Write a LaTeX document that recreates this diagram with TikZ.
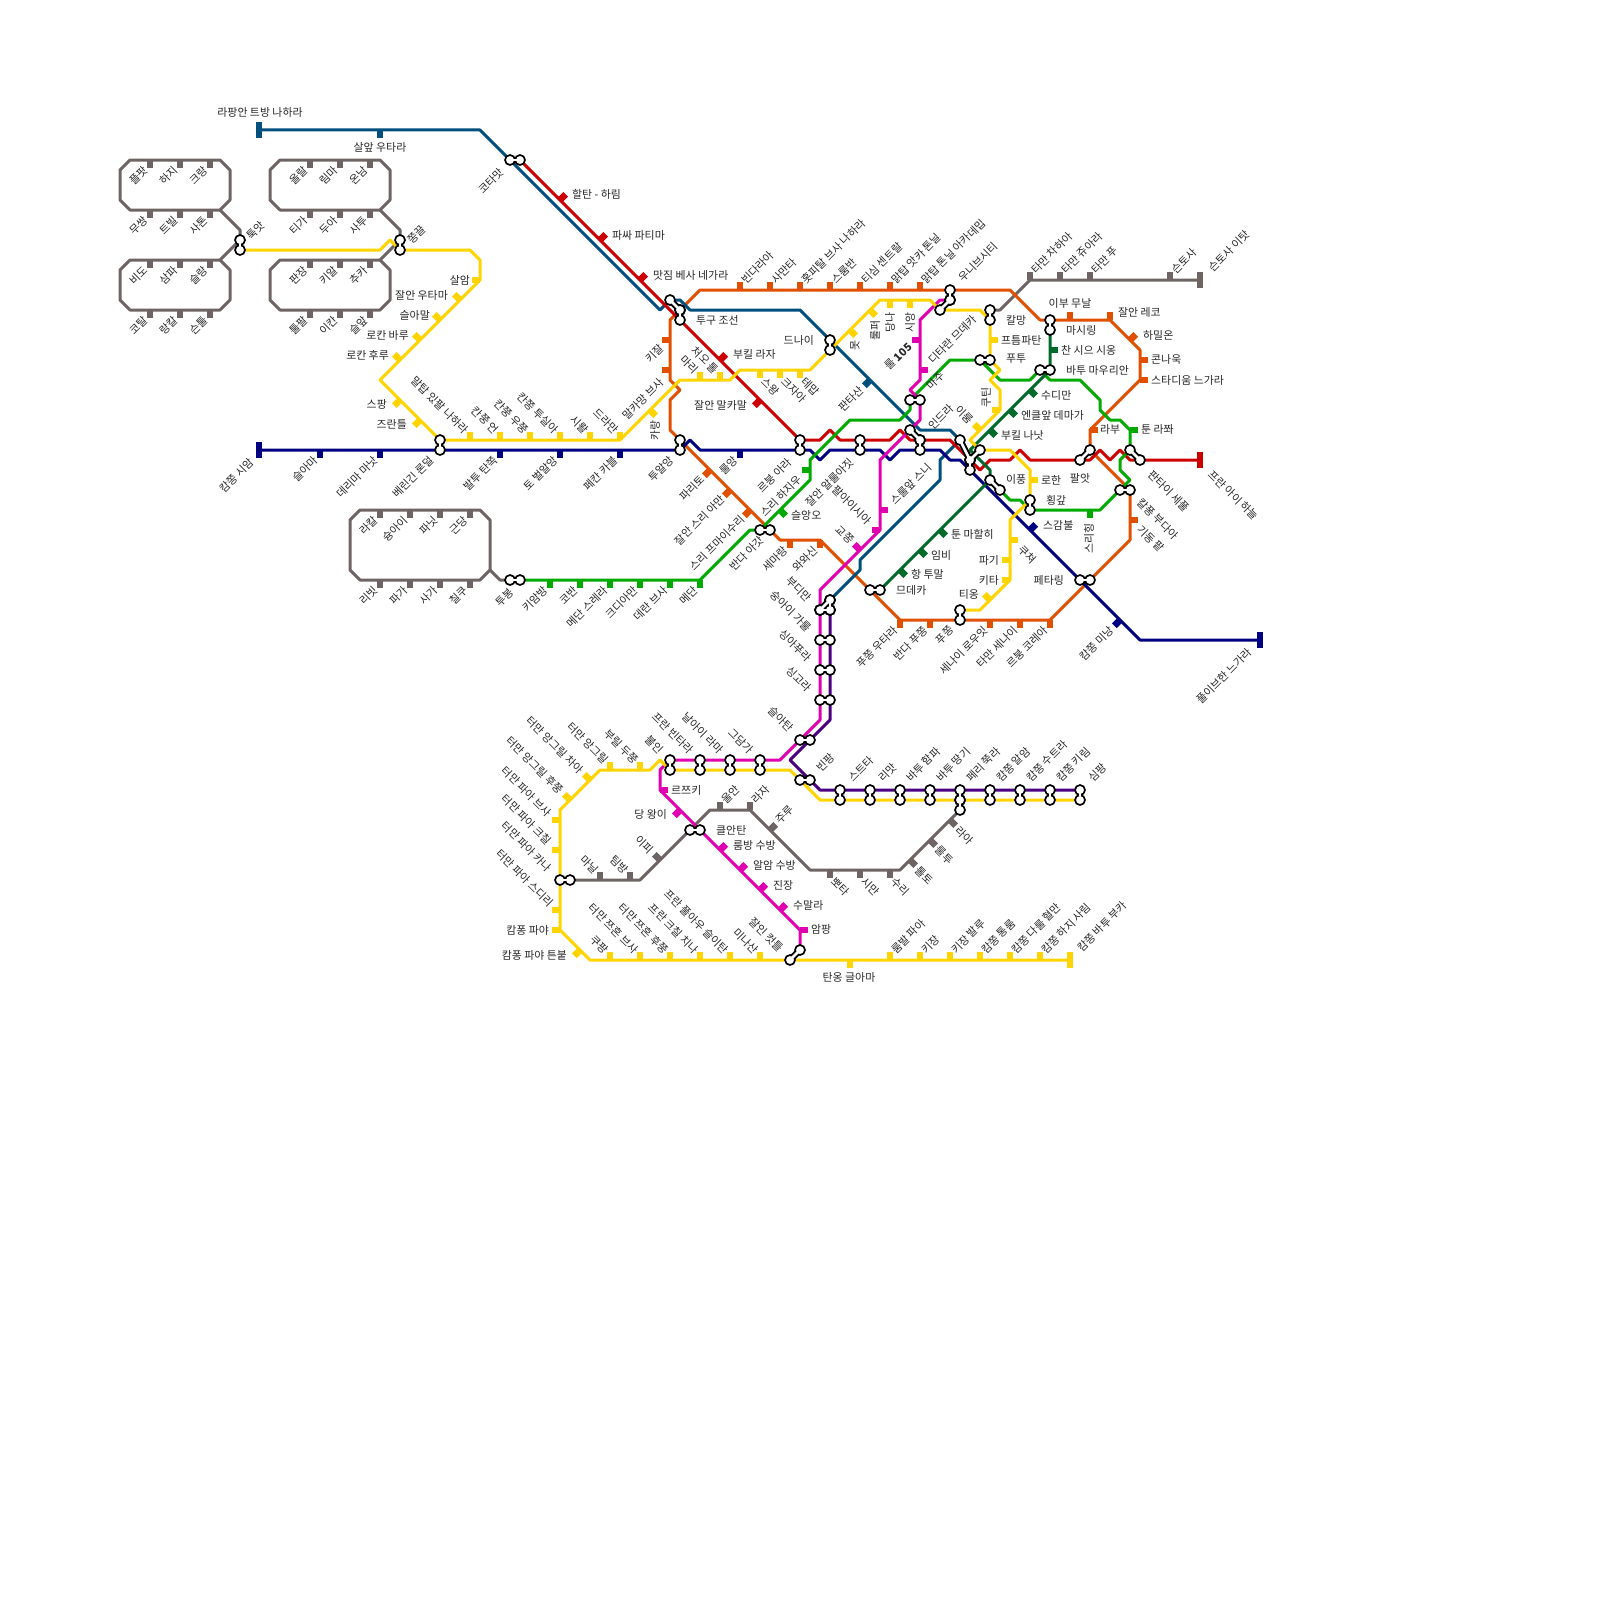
\documentclass[tikz,border=0pt]{standalone}
\usepackage{fontspec}
\setmainfont{Noto Sans CJK KR}
\usepackage{xcolor}
\definecolor{cteal}{RGB}{0,79,124}
\definecolor{cred}{RGB}{204,0,0}
\definecolor{cnavy}{RGB}{0,0,128}
\definecolor{cyel}{RGB}{255,212,0}
\definecolor{corg}{RGB}{224,80,0}
\definecolor{cgrn}{RGB}{0,170,0}
\definecolor{cdgrn}{RGB}{0,106,42}
\definecolor{cgry}{RGB}{110,100,100}
\definecolor{cmag}{RGB}{224,0,176}
\definecolor{cpur}{RGB}{75,0,130}
\def\xpairs{kta/ktb,tua/tub,jja/jjb,bra/brb,tba/tbb,tga/tgb,tgb/tgc,tla/tlb,bna/bnb,rba/rbb,dna/dnb,jla/jlb,ska/skb,skb/skc,mja/mjb,uva/uvb,uvb/uvc,kla/klb,pta/ptb,bma/bmb,msa/msb,cna/cnc,cnb/cnc,cnc/cnd,ipa/ipb,hga/hgb,pya/pyb,psa/psb,kba/kbb,pea/peb,mda/mdb,pja/pjb,bda/bdb,bdb/bdc,bda/bdc,sga/sgb,ssa/ssb,sca/scb,sla/slb,bta/btb,pAa/pAb,pBa/pBb,pCa/pCb,pDa/pDb,pEa/pEb,pEb/pEc,pFa/pFb,pGa/pGb,pHa/pHb,pIa/pIb,vAa/vAb,vBa/vBb,vCa/vCb,vDa/vDb,kna/knb,tpa/tpb,jca/jcb}
\tikzset{
  metro/.style={line width=3pt,line join=round,draw=#1},
  tick/.style={inner sep=0pt,outer sep=0pt,minimum width=6.7pt,minimum height=8pt,anchor=north},
  tkd/.style={tick,fill=#1},
  tku/.style={tick,fill=#1,rotate=180},
  tkl/.style={tick,fill=#1,rotate=-90},
  tkr/.style={tick,fill=#1,rotate=90},
  tkne/.style={tick,fill=#1,rotate=135},
  tknw/.style={tick,fill=#1,rotate=-135},
  tkse/.style={tick,fill=#1,rotate=45},
  tksw/.style={tick,fill=#1,rotate=-45},
  endbar/.style={inner sep=0pt,outer sep=0pt,minimum width=6.7pt,minimum height=16pt,fill=#1},
  xout/.style={line width=6.5pt,black},
  xin/.style={line width=2.6pt,white},
  xring/.style={circle,draw=black,fill=white,line width=1.7pt,inner sep=0pt,outer sep=0pt,minimum size=10pt},
  lbl/.style={font=\fontsize{10.9}{13}\selectfont,text=black!85,inner sep=0pt},
  hc/.style={lbl},
  hl/.style={lbl,anchor=east},
  hr/.style={lbl,anchor=west},
  rne/.style={lbl,rotate=45,anchor=west},
  rsw/.style={lbl,rotate=45,anchor=east},
  rnw/.style={lbl,rotate=-45,anchor=east},
  rse/.style={lbl,rotate=-45,anchor=west},
  rup/.style={lbl,rotate=90,anchor=east},
  lsw/.style={xshift=-4pt,yshift=-8pt,rsw},
  lne/.style={xshift=3pt,yshift=8pt,rne},
  lnw/.style={xshift=-3pt,yshift=8pt,rnw},
  lse/.style={xshift=3pt,yshift=-9pt,rse},
  dsw/.style={xshift=-7pt,yshift=-7pt,rsw},
  dnw/.style={xshift=-8pt,yshift=8pt,rnw},
  dse/.style={xshift=7pt,yshift=-8pt,rse},
  dne/.style={xshift=8pt,yshift=8pt,rne}
}
\begin{document}
\begin{tikzpicture}[x=1pt,y=-1pt]
  \useasboundingbox (0,0) rectangle (1600,1600);

  \coordinate (kta) at (510,160); \coordinate (ktb) at (520,160);
  \coordinate (tua) at (240,240); \coordinate (tub) at (240,250);
  \coordinate (jja) at (400,240); \coordinate (jjb) at (400,250);
  \coordinate (bra) at (440,440); \coordinate (brb) at (440,450);
  \coordinate (tba) at (510,580); \coordinate (tbb) at (520,580);
  \coordinate (tga) at (670,300); \coordinate (tgb) at (680,310); \coordinate (tgc) at (680,320);
  \coordinate (tla) at (680,440); \coordinate (tlb) at (680,450);
  \coordinate (bna) at (760,530); \coordinate (bnb) at (770,530);
  \coordinate (rba) at (800,440); \coordinate (rbb) at (800,450);
  \coordinate (dna) at (830,340); \coordinate (dnb) at (830,350);
  \coordinate (jla) at (860,440); \coordinate (jlb) at (860,450);
  \coordinate (ska) at (910,430); \coordinate (skb) at (920,440); \coordinate (skc) at (920,450);
  \coordinate (mja) at (910,400); \coordinate (mjb) at (920,400);
  \coordinate (uva) at (940,310); \coordinate (uvb) at (950,300); \coordinate (uvc) at (950,290);
  \coordinate (kla) at (990,310); \coordinate (klb) at (990,320);
  \coordinate (pta) at (980,360); \coordinate (ptb) at (990,360);
  \coordinate (bma) at (1040,370); \coordinate (bmb) at (1050,370);
  \coordinate (msa) at (1050,320); \coordinate (msb) at (1050,330);
  \coordinate (cna) at (960,440); \coordinate (cnb) at (980,450); \coordinate (cnc) at (970,460); \coordinate (cnd) at (970,470);
  \coordinate (ipa) at (990,480); \coordinate (ipb) at (1000,490);
  \coordinate (hga) at (1030,500); \coordinate (hgb) at (1030,510);
  \coordinate (pya) at (1080,460); \coordinate (pyb) at (1090,450);
  \coordinate (psa) at (1130,450); \coordinate (psb) at (1140,460);
  \coordinate (kba) at (1120,490); \coordinate (kbb) at (1130,490);
  \coordinate (pea) at (1080,580); \coordinate (peb) at (1090,580);
  \coordinate (mda) at (870,590); \coordinate (mdb) at (880,590);
  \coordinate (pja) at (960,610); \coordinate (pjb) at (960,620);
  \coordinate (bda) at (830,600); \coordinate (bdb) at (820,610); \coordinate (bdc) at (830,610);
  \coordinate (sga) at (820,640); \coordinate (sgb) at (830,640);
  \coordinate (ssa) at (820,670); \coordinate (ssb) at (830,670);
  \coordinate (sca) at (820,700); \coordinate (scb) at (830,700);
  \coordinate (sla) at (800,740); \coordinate (slb) at (810,740);
  \coordinate (bta) at (800,780); \coordinate (btb) at (810,780);
  \coordinate (pAa) at (840,790); \coordinate (pAb) at (840,800);
  \coordinate (pBa) at (870,790); \coordinate (pBb) at (870,800);
  \coordinate (pCa) at (900,790); \coordinate (pCb) at (900,800);
  \coordinate (pDa) at (930,790); \coordinate (pDb) at (930,800);
  \coordinate (pEa) at (960,790); \coordinate (pEb) at (960,800); \coordinate (pEc) at (960,810);
  \coordinate (pFa) at (990,790); \coordinate (pFb) at (990,800);
  \coordinate (pGa) at (1020,790); \coordinate (pGb) at (1020,800);
  \coordinate (pHa) at (1050,790); \coordinate (pHb) at (1050,800);
  \coordinate (pIa) at (1080,790); \coordinate (pIb) at (1080,800);
  \coordinate (vAa) at (670,760); \coordinate (vAb) at (670,770);
  \coordinate (vBa) at (700,760); \coordinate (vBb) at (700,770);
  \coordinate (vCa) at (730,760); \coordinate (vCb) at (730,770);
  \coordinate (vDa) at (760,760); \coordinate (vDb) at (760,770);
  \coordinate (kna) at (690,830); \coordinate (knb) at (700,830);
  \coordinate (tpa) at (560,880); \coordinate (tpb) at (570,880);
  \coordinate (jca) at (790,960); \coordinate (jcb) at (800,950);

  \node[endbar=cteal] (tealbar) at (259,130) {};
  \node[endbar=cnavy] (navybarw) at (259,450) {};
  \node[endbar=cnavy] (navybare) at (1260,640) {};
  \node[endbar=cred] (redbar) at (1200,460) {};
  \node[endbar=cgry] (grybar) at (1200,280) {};
  \node[endbar=cyel] (yelbar) at (1070,960) {};

  \draw[metro=cgry] (130,160) -- (220,160) -- (230,170) -- (230,200) -- (220,210) -- (130,210) -- (120,200) -- (120,170) -- cycle;
  \draw[metro=cgry] (130,260) -- (220,260) -- (230,270) -- (230,300) -- (220,310) -- (130,310) -- (120,300) -- (120,270) -- cycle;
  \draw[metro=cgry] (280,160) -- (380,160) -- (390,170) -- (390,200) -- (380,210) -- (280,210) -- (270,200) -- (270,170) -- cycle;
  \draw[metro=cgry] (280,260) -- (380,260) -- (390,270) -- (390,300) -- (380,310) -- (280,310) -- (270,300) -- (270,270) -- cycle;
  \draw[metro=cgry] (360,510) -- (480,510) -- (490,520) -- (490,570) -- (480,580) -- (360,580) -- (350,570) -- (350,520) -- cycle;
  \draw[metro=cgry] (220,210) -- (240,230) -- (tua);
  \draw[metro=cgry] (220,260) -- (tua);
  \draw[metro=cgry] (380,210) -- (400,230) -- (jja);
  \draw[metro=cgry] (380,260) -- (jja);
  \draw[metro=cgry] (490,570) -- (500,580) -- (tba);
  \draw[metro=cgry] (kla) -- (1000,310) -- (1030,280) -- (grybar.center);
  \draw[metro=cgry] (tpb) -- (640,880) -- (710,810) -- (750,810) -- (810,870) -- (900,870) -- (pEc);

  \draw[metro=corg] (700,290) -- (1010,290) -- (1040,320) -- (1110,320) -- (1140,350) -- (1140,380) -- (1090,430) -- (pyb) -- (kbb) -- (1130,540) -- (1050,620) -- (900,620) -- (820,540) -- (780,540) -- (tla) -- (670,430) -- (670,400) -- (680,390) -- (670,380) -- (670,320) -- cycle;
  \draw[metro=cteal] (tealbar.center) -- (480,130) -- (660,310) -- (670,300) -- (680,300) -- (690,310) -- (800,310) -- (920,430) -- (950,430) -- (cna) -- (940,460) -- (940,480) -- (860,560) -- (860,570) -- (bda);
  \draw[metro=cred] (ktb) -- (rba) -- (820,440) -- (830,430) -- (840,440) -- (890,440) -- (900,430) -- (910,440) -- (950,440) -- (980,470) -- (990,460) -- (1010,460) -- (1020,450) -- (1030,460) -- (1090,460) -- (1100,450) -- (1110,460) -- (1120,450) -- (1130,460) -- (redbar.center);
  \draw[metro=cnavy] (navybarw.center) -- (tlb) -- (690,440) -- (700,450) -- (810,450) -- (820,460) -- (830,450) -- (880,450) -- (890,460) -- (900,450) -- (940,450) -- (950,460) -- (960,460) -- (cnd) -- (1140,640) -- (navybare.center);
  \draw[metro=cgrn] (tbb) -- (700,580) -- (750,530) -- (bna) -- (810,480) -- (810,460) -- (850,420) -- (900,420) -- (910,410) -- (mja) -- (950,360) -- (pta) -- (1000,380) -- (1030,380) -- (bma) -- (1050,380) -- (1080,380) -- (1100,400) -- (1100,410) -- (1110,420) -- (1120,420) -- (1130,430) -- (psa) -- (1120,460) -- (1120,470) -- (1130,480) -- (kba) -- (1100,510) -- (hgb) -- (1020,500) -- (1010,500) -- (ipb);
  \draw[metro=cdgrn] (msb) -- (bmb) -- (970,450) -- (990,470) -- (ipa) -- (880,590);
  \draw[metro=cpur] (bdc) -- (830,720) -- (790,760) -- (820,790) -- (pIa);
  \draw[metro=cmag] (jcb) -- (800,930) -- (660,790) -- (660,770) -- (vAa) -- (780,760) -- (820,720) -- (820,590) -- (880,530) -- (880,460) -- (920,420) -- (mjb) -- (910,390) -- (920,380) -- (920,320) -- (940,300) -- (uvb);
  \draw[metro=cyel] (tub) -- (380,250) -- (390,240) -- (jjb) -- (470,250) -- (480,260) -- (480,280) -- (380,380) -- (bra) -- (620,440) -- (680,380) -- (730,380) -- (740,370) -- (810,370) -- (880,300) -- (930,300) -- (uva) -- (980,310) -- (klb) -- (990,360) -- (1000,370) -- (990,380) -- (1000,390) -- (1000,410) -- (970,440) -- (cnb) -- (1010,450) -- (1030,470) -- (hga) -- (1010,520) -- (1010,580) -- (980,610) -- (pja);
  \draw[metro=cyel] (yelbar.center) -- (590,960) -- (560,930) -- (560,810) -- (600,770) -- (650,770) -- (660,760) -- (vAb) -- (790,770) -- (820,800) -- (pIb);

  \node[tkd=cteal] (t1) at (380,130) {}; \node[hc] (t1t) at (380,147) {살앞 우타라};
  \node[tksw=cteal] (t2) at (870,380) {}; \node[rsw] (t2t) at (862,388) {판타산};
  \node[hc] (t0t) at (260,112) {라팡안 트방 나하라};
  \node[rsw] (t3t) at (502,170) {코타맛};
  \node[hr] (t4t) at (696,320) {투구 조선};
  \node[hl] (t5t) at (814,340) {드나이};
  \node[rne] (t6t) at (930,428) {인드라};

  \node[tkd=cgry] (a1) at (150,160) {}; \node[lsw] (a1t) at (a1.north) {플팟};
  \node[tkd=cgry] (a2) at (180,160) {}; \node[lsw] (a2t) at (a2.north) {하지};
  \node[tkd=cgry] (a3) at (210,160) {}; \node[lsw] (a3t) at (a3.north) {크랑};
  \node[tkd=cgry] (a4) at (150,210) {}; \node[lsw] (a4t) at (a4.north) {무쌍};
  \node[tkd=cgry] (a5) at (180,210) {}; \node[lsw] (a5t) at (a5.north) {트빌};
  \node[tkd=cgry] (a6) at (210,210) {}; \node[lsw] (a6t) at (a6.north) {사톤};
  \node[tkd=cgry] (b1) at (150,260) {}; \node[lsw] (b1t) at (b1.north) {비도};
  \node[tkd=cgry] (b2) at (180,260) {}; \node[lsw] (b2t) at (b2.north) {삼파};
  \node[tkd=cgry] (b3) at (210,260) {}; \node[lsw] (b3t) at (b3.north) {슬랑};
  \node[tkd=cgry] (b4) at (150,310) {}; \node[lsw] (b4t) at (b4.north) {코탈};
  \node[tkd=cgry] (b5) at (180,310) {}; \node[lsw] (b5t) at (b5.north) {랑칼};
  \node[tkd=cgry] (b6) at (210,310) {}; \node[lsw] (b6t) at (b6.north) {슨툴};
  \node[tkd=cgry] (c1) at (310,160) {}; \node[lsw] (c1t) at (c1.north) {올랄};
  \node[tkd=cgry] (c2) at (340,160) {}; \node[lsw] (c2t) at (c2.north) {림마};
  \node[tkd=cgry] (c3) at (370,160) {}; \node[lsw] (c3t) at (c3.north) {온남};
  \node[tkd=cgry] (c4) at (310,210) {}; \node[lsw] (c4t) at (c4.north) {티가};
  \node[tkd=cgry] (c5) at (340,210) {}; \node[lsw] (c5t) at (c5.north) {두아};
  \node[tkd=cgry] (c6) at (370,210) {}; \node[lsw] (c6t) at (c6.north) {사투};
  \node[tkd=cgry] (e1) at (310,260) {}; \node[lsw] (e1t) at (e1.north) {판장};
  \node[tkd=cgry] (e2) at (340,260) {}; \node[lsw] (e2t) at (e2.north) {키알};
  \node[tkd=cgry] (e3) at (370,260) {}; \node[lsw] (e3t) at (e3.north) {추카};
  \node[tkd=cgry] (e4) at (310,310) {}; \node[lsw] (e4t) at (e4.north) {툴팔};
  \node[tkd=cgry] (e5) at (340,310) {}; \node[lsw] (e5t) at (e5.north) {이칸};
  \node[tkd=cgry] (e6) at (370,310) {}; \node[lsw] (e6t) at (e6.north) {슬앞};
  \node[tkd=cgry] (f1) at (380,510) {}; \node[lsw] (f1t) at (f1.north) {라칼};
  \node[tkd=cgry] (f2) at (410,510) {}; \node[lsw] (f2t) at (f2.north) {슝아이};
  \node[tkd=cgry] (f3) at (440,510) {}; \node[lsw] (f3t) at (f3.north) {파닛};
  \node[tkd=cgry] (f4) at (470,510) {}; \node[lsw] (f4t) at (f4.north) {근당};
  \node[tkd=cgry] (f5) at (380,580) {}; \node[lsw] (f5t) at (f5.north) {리빗};
  \node[tkd=cgry] (f6) at (410,580) {}; \node[lsw] (f6t) at (f6.north) {파가};
  \node[tkd=cgry] (f7) at (440,580) {}; \node[lsw] (f7t) at (f7.north) {사가};
  \node[tkd=cgry] (f8) at (470,580) {}; \node[lsw] (f8t) at (f8.north) {칠쿠};
  \node[rne] (h1t) at (248,238) {툭앗};
  \node[rne] (h2t) at (410,242) {쫑끌};
  \node[rsw] (h3t) at (512,590) {투봉};
  \node[tku=cgry] (g1) at (1030,280) {}; \node[lne] (g1t) at (g1.north) {타만 차하아};
  \node[tku=cgry] (g2) at (1060,280) {}; \node[lne] (g2t) at (g2.north) {타만 쥬아라};
  \node[tku=cgry] (g3) at (1090,280) {}; \node[lne] (g3t) at (g3.north) {타만 푸};
  \node[tku=cgry] (g4) at (1170,280) {}; \node[lne] (g4t) at (g4.north) {슨토사};
  \node[rne] (g5t) at (1210,270) {슨토사 이탓};
  \node[tkne=cgry] (s1) at (770,830) {}; \node[dne] (s1t) at (s1.north) {주루};
  \node[tkd=cgry] (s2) at (830,870) {}; \node[lse] (s2t) at (s2.north) {뽀타};
  \node[tkd=cgry] (s3) at (860,870) {}; \node[lse] (s3t) at (s3.north) {시만};
  \node[tkd=cgry] (s4) at (890,870) {}; \node[lse] (s4t) at (s4.north) {수리};
  \node[tkse=cgry] (s5) at (910,860) {}; \node[dse] (s5t) at (s5.north) {톨토};
  \node[tkse=cgry] (s6) at (930,840) {}; \node[dse] (s6t) at (s6.north) {룰투};
  \node[tkse=cgry] (s7) at (950,820) {}; \node[dse] (s7t) at (s7.north) {라아};
  \node[tku=cgry] (s8) at (720,810) {}; \node[lne] (s8t) at (s8.north) {울안};
  \node[tku=cgry] (s9) at (750,810) {}; \node[lne] (s9t) at (s9.north) {라자};
  \node[tknw=cgry] (s10) at (660,860) {}; \node[dnw] (s10t) at (s10.north) {이피};
  \node[tku=cgry] (s11) at (630,880) {}; \node[lnw] (s11t) at (s11.north) {팀방};
  \node[tku=cgry] (s12) at (600,880) {}; \node[lnw] (s12t) at (s12.north) {마닐};
  \node[hr] (s13t) at (716,830) {클안탄};

  \node[tkl=cyel] (y1) at (480,280) {}; \node[hl] (y1t) at (470,280) {살암};
  \node[tknw=cyel] (y2) at (460,300) {}; \node[hl] (y2t) at (448,295) {잘안 우타마};
  \node[tknw=cyel] (y3) at (440,320) {}; \node[hl] (y3t) at (430,315) {슬아말};
  \node[tknw=cyel] (y4) at (420,340) {}; \node[hl] (y4t) at (409,335) {로칸 바루};
  \node[tknw=cyel] (y5) at (400,360) {}; \node[hl] (y5t) at (389,355) {로칸 후루};
  \node[tksw=cyel] (y6) at (400,400) {}; \node[hl] (y6t) at (387,404) {스팡};
  \node[tksw=cyel] (y7) at (420,420) {}; \node[hl] (y7t) at (407,424) {즈란틀};
  \node[tku=cyel] (y8) at (470,440) {}; \node[lnw] (y8t) at (y8.north) {말탑 있팔 나하라};
  \node[tku=cyel] (y9) at (500,440) {}; \node[lnw] (y9t) at (y9.north) {칸쭝 언};
  \node[tku=cyel] (y10) at (530,440) {}; \node[lnw] (y10t) at (y10.north) {칸쭝 우쭝};
  \node[tku=cyel] (y11) at (560,440) {}; \node[lnw] (y11t) at (y11.north) {칸쫑 투실아};
  \node[tku=cyel] (y12) at (590,440) {}; \node[lnw] (y12t) at (y12.north) {시뢀};
  \node[tku=cyel] (y13) at (620,440) {}; \node[lnw] (y13t) at (y13.north) {드라만};
  \node[tkse=cyel] (y14) at (650,410) {}; \node[rup] (y14t) at (655,420) {카랑};
  \node[tku=cyel] (y15) at (700,380) {}; \node[lnw] (y15t) at (y15.north) {마리};
  \node[tku=cyel] (y16) at (720,380) {}; \node[lnw] (y16t) at (y16.north) {처오 톨};
  \node[tkd=cyel] (y17) at (760,370) {}; \node[lse] (y17t) at (y17.north) {스왕};
  \node[tkd=cyel] (y18) at (780,370) {}; \node[lse] (y18t) at (y18.north) {크자아};
  \node[tkd=cyel] (y19) at (800,370) {}; \node[lse] (y19t) at (y19.north) {테맙};
  \node[tkse=cyel] (y20) at (850,330) {}; \node[rup] (y20t) at (855,340) {못};
  \node[tkse=cyel] (y21) at (870,310) {}; \node[rup] (y21t) at (875,320) {룰퍼};
  \node[tkd=cyel] (y22) at (890,300) {}; \node[rup] (y22t) at (890,312) {당나};
  \node[tkd=cyel] (y23) at (910,300) {}; \node[rup] (y23t) at (910,312) {시앙};
  \node[tkr=cyel] (y24) at (990,340) {}; \node[hr] (y24t) at (1001,340) {프틈파탄};
  \node[tkl=cyel] (y25) at (1000,410) {}; \node[rup] (y25t) at (986,387) {쿠틴};
  \node[tknw=cyel] (y26) at (980,430) {}; \node[dnw] (y26t) at (y26.north) {이룸};
  \node[tkr=cyel] (y27) at (1030,480) {}; \node[hr] (y27t) at (1041,480) {로한};
  \node[tkr=cyel] (y28) at (1010,540) {}; \node[rse] (y28t) at (1020,547) {쿠쳐};
  \node[tkl=cyel] (y29) at (1010,560) {}; \node[hl] (y29t) at (999,560) {파기};
  \node[tkl=cyel] (y30) at (1010,580) {}; \node[hl] (y30t) at (999,580) {키타};
  \node[tknw=cyel] (y31) at (990,600) {}; \node[hl] (y31t) at (979,594) {티옹};

  \node[tku=cyel] (z1) at (610,770) {}; \node[lnw] (z1t) at (z1.north) {터만 앙그릴};
  \node[tku=cyel] (z2) at (640,770) {}; \node[lnw] (z2t) at (z2.north) {부릴 두쭝};
  \node[tknw=cyel] (z3) at (590,780) {}; \node[dnw] (z3t) at (z3.north) {터만 앙그릴 차아};
  \node[tknw=cyel] (z4) at (570,800) {}; \node[dnw] (z4t) at (z4.north) {터만 앙그릴 후쭝};
  \node[tkl=cyel] (z5) at (560,820) {}; \node[rnw] (z5t) at (550,815) {터만 파아 브사};
  \node[tkl=cyel] (z6) at (560,850) {}; \node[rnw] (z6t) at (550,843) {터만 파아 크칠};
  \node[rnw] (z7t) at (550,870) {터만 파아 카나};
  \node[tkl=cyel] (z8) at (560,910) {}; \node[rnw] (z8t) at (552,905) {터만 파아 스디리};
  \node[tkl=cyel] (z9) at (560,930) {}; \node[hl] (z9t) at (549,930) {캄퐁 파야};
  \node[tksw=cyel] (z10) at (580,950) {}; \node[hl] (z10t) at (567,955) {캄퐁 파야 튼붙};
  \node[tku=cyel] (z11) at (610,960) {}; \node[lnw] (z11t) at (z11.north) {쿠팡};
  \node[tku=cyel] (z12) at (640,960) {}; \node[lnw] (z12t) at (z12.north) {터만 쯔혼 브사};
  \node[tku=cyel] (z13) at (670,960) {}; \node[lnw] (z13t) at (z13.north) {터만 쯔혼 후쭝};
  \node[tku=cyel] (z14) at (700,960) {}; \node[lnw] (z14t) at (z14.north) {프란 크칠 치나};
  \node[tku=cyel] (z15) at (730,960) {}; \node[lnw] (z15t) at (z15.north) {프란 풀아우 슬이탄};
  \node[tku=cyel] (z16) at (760,960) {}; \node[lnw] (z16t) at (z16.north) {미나산};
  \node[rnw] (z17t) at (782,950) {잘인 컷틀};
  \node[tkd=cyel] (z18) at (850,960) {}; \node[hc] (z18t) at (849,977) {탄옹 글아마};
  \node[tku=cyel] (z19) at (890,960) {}; \node[lne] (z19t) at (z19.north) {룸발 파아};
  \node[tku=cyel] (z20) at (920,960) {}; \node[lne] (z20t) at (z20.north) {키장};
  \node[tku=cyel] (z21) at (950,960) {}; \node[lne] (z21t) at (z21.north) {키장 발루};
  \node[tku=cyel] (z22) at (980,960) {}; \node[lne] (z22t) at (z22.north) {캄쫑 통룸};
  \node[tku=cyel] (z23) at (1010,960) {}; \node[lne] (z23t) at (z23.north) {캄쫑 다룰 혈만};
  \node[tku=cyel] (z24) at (1040,960) {}; \node[lne] (z24t) at (z24.north) {캄쫑 하지 사림};
  \node[rne] (z25t) at (1079,950) {캄쫑 바투 부카};

  \node[rne] (p1t) at (850,780) {스트타};
  \node[rne] (p2t) at (880,780) {리맛};
  \node[rne] (p3t) at (908,780) {바투 함파};
  \node[rne] (p4t) at (938,780) {바투 땅기};
  \node[rne] (p5t) at (968,780) {페리 쭉라};
  \node[rne] (p6t) at (998,780) {캄쫑 알암};
  \node[rne] (p7t) at (1028,780) {캄쫑 수트라};
  \node[rne] (p8t) at (1058,780) {캄쫑 키림};
  \node[rne] (p9t) at (1090,780) {심팡};
  \node[rne] (p10t) at (818,770) {빈팡};
  \node[rnw] (v1t) at (662,752) {불인};
  \node[rnw] (v2t) at (692,752) {프란 빈타라};
  \node[rnw] (v3t) at (722,752) {날아이 라마};
  \node[rnw] (v4t) at (752,752) {그담가};
  \node[rnw] (v5t) at (792,730) {슬아탄};

  \node[tkr=cmag] (m1) at (660,790) {}; \node[hr] (m1t) at (671,790) {르쯔키};
  \node[tksw=cmag] (m2) at (680,810) {}; \node[hl] (m2t) at (667,814) {당 왕이};
  \node[tkne=cmag] (m3) at (720,850) {}; \node[hr] (m3t) at (733,845) {룸방 수방};
  \node[tkne=cmag] (m4) at (740,870) {}; \node[hr] (m4t) at (753,865) {알암 수방};
  \node[tkne=cmag] (m5) at (760,890) {}; \node[hr] (m5t) at (773,885) {진장};
  \node[tkne=cmag] (m6) at (780,910) {}; \node[hr] (m6t) at (793,905) {수말라};
  \node[tkr=cmag] (m7) at (800,930) {}; \node[hr] (m7t) at (811,929) {암팡};
  \node[rnw] (m8t) at (810,600) {부디만};
  \node[rnw] (m9t) at (810,630) {숭아이 가룰};
  \node[rnw] (m10t) at (810,660) {싱아푸라};
  \node[rnw] (m11t) at (810,690) {싱고라};
  \node[tknw=cmag] (m12) at (860,550) {}; \node[dnw] (m12t) at (m12.north) {교쫑};
  \node[tkl=cmag] (m13) at (880,530) {}; \node[rnw] (m13t) at (870,523) {팔아이시아};
  \node[tkr=cmag] (m14) at (880,510) {}; \node[rne] (m14t) at (892,503) {스룰앞 스니};
  \node[tkr=cmag] (m15) at (920,370) {}; \node[rne] (m15t) at (930,362) {디타란 므데카};
  \node[tkl=cmag] (m16) at (920,340) {}; \node[rsw] (m16t) at (910,345) {룰 \textbf{105}};
  \node[rne] (m17t) at (928,388) {마주};

  \node[rsw] (n0t) at (252,460) {캄쫑 시암};
  \node[tkd=cnavy] (n1) at (320,450) {}; \node[lsw] (n1t) at (n1.north) {슬아마};
  \node[tkd=cnavy] (n2) at (380,450) {}; \node[lsw] (n2t) at (n2.north) {데리마 마낫};
  \node[rsw] (n3t) at (432,458) {베린긴 론덜};
  \node[tkd=cnavy] (n4) at (500,450) {}; \node[lsw] (n4t) at (n4.north) {발투 탄쪽};
  \node[tkd=cnavy] (n5) at (560,450) {}; \node[lsw] (n5t) at (n5.north) {토 벌알앙};
  \node[tkd=cnavy] (n6) at (620,450) {}; \node[lsw] (n6t) at (n6.north) {페칸 카블};
  \node[rsw] (n7t) at (672,458) {투알앙};
  \node[tkd=cnavy] (n8) at (740,450) {}; \node[lsw] (n8t) at (n8.north) {룰앙};
  \node[tkne=cnavy] (n9) at (1030,530) {}; \node[hr] (n9t) at (1043,525) {스감불};
  \node[tksw=cnavy] (n10) at (1120,620) {}; \node[rsw] (n10t) at (1112,628) {캄쫑 미낭};
  \node[rsw] (n11t) at (1250,650) {풀이브한 느가라};

  \node[tkne=cred] (r1) at (560,200) {}; \node[hr] (r1t) at (572,194) {할탄 - 하림};
  \node[tkne=cred] (r2) at (600,240) {}; \node[hr] (r2t) at (612,235) {파싸 파티마};
  \node[tkne=cred] (r3) at (640,280) {}; \node[hr] (r3t) at (653,275) {맛짐 베사 네가라};
  \node[tkne=cred] (r4) at (720,360) {}; \node[hr] (r4t) at (733,354) {부킬 라자};
  \node[tksw=cred] (r5) at (760,400) {}; \node[hl] (r5t) at (747,405) {잘안 말카말};
  \node[rse] (r6t) at (1210,472) {프란 아이 하늘};
  \node[rse] (r7t) at (1150,472) {판타이 세풀};

  \node[tku=corg] (o1) at (740,290) {}; \node[lne] (o1t) at (o1.north) {빈다라아};
  \node[tku=corg] (o2) at (770,290) {}; \node[lne] (o2t) at (o2.north) {사만타};
  \node[tku=corg] (o3) at (800,290) {}; \node[lne] (o3t) at (o3.north) {홋피탈 브사 나하라};
  \node[tku=corg] (o4) at (830,290) {}; \node[lne] (o4t) at (o4.north) {스룸반};
  \node[tku=corg] (o5) at (860,290) {}; \node[lne] (o5t) at (o5.north) {티심 센트랄};
  \node[tku=corg] (o6) at (890,290) {}; \node[lne] (o6t) at (o6.north) {맑탑 앗카 톤닐};
  \node[tku=corg] (o7) at (920,290) {}; \node[lne] (o7t) at (o7.north) {맑탑 톤닐 아카데밉};
  \node[rne] (o8t) at (960,280) {우니브시티};
  \node[tkl=corg] (o9) at (670,340) {}; \node[rsw] (o9t) at (662,346) {키잘};
  \node[tkl=corg] (o10) at (670,370) {}; \node[rsw] (o10t) at (662,380) {말카망 브사};
  \node[tku=corg] (o11) at (1070,320) {}; \node[hc] (o11t) at (1070,303) {이부 무날};
  \node[tku=corg] (o12) at (1110,320) {}; \node[hr] (o12t) at (1118,312) {잘안 레코};
  \node[tkne=corg] (o13) at (1130,340) {}; \node[hr] (o13t) at (1143,335) {하밀온};
  \node[tkr=corg] (o14) at (1140,360) {}; \node[hr] (o14t) at (1151,359) {콘나욱};
  \node[tkr=corg] (o15) at (1140,380) {}; \node[hr] (o15t) at (1151,380) {스타디움 느가라};
  \node[tkr=corg] (o16) at (1090,430) {}; \node[hr] (o16t) at (1100,429) {라부};
  \node[tkr=corg] (o17) at (1130,520) {}; \node[rse] (o17t) at (1139,527) {기동 팥};
  \node[rse] (o18t) at (1139,500) {칼퐁 부다아};
  \node[tksw=corg] (o19) at (710,470) {}; \node[dsw] (o19t) at (o19.north) {파리토};
  \node[tksw=corg] (o20) at (730,490) {}; \node[dsw] (o20t) at (o20.north) {잘안 스리 아만};
  \node[tksw=corg] (o21) at (750,510) {}; \node[dsw] (o21t) at (o21.north) {스리 프마이수리};
  \node[rsw] (o22t) at (762,538) {반다 아갓};
  \node[tkd=corg] (o23) at (790,540) {}; \node[lsw] (o23t) at (o23.north) {세마랑};
  \node[tkd=corg] (o24) at (820,540) {}; \node[lsw] (o24t) at (o24.north) {와와신};
  \node[tkd=corg] (o25) at (900,620) {}; \node[lsw] (o25t) at (o25.north) {푸쫑 우타라};
  \node[tkd=corg] (o26) at (930,620) {}; \node[lsw] (o26t) at (o26.north) {반다 푸쫑};
  \node[rsw] (o27t) at (952,628) {푸쫑};
  \node[tkd=corg] (o28) at (990,620) {}; \node[lsw] (o28t) at (o28.north) {세나이 로우잇};
  \node[tkd=corg] (o29) at (1020,620) {}; \node[lsw] (o29t) at (o29.north) {타만 세나이};
  \node[tkd=corg] (o30) at (1050,620) {}; \node[lsw] (o30t) at (o30.north) {르붕 코레아};

  \node[tkd=cgrn] (q1) at (550,580) {}; \node[lsw] (q1t) at (q1.north) {키암방};
  \node[tkd=cgrn] (q2) at (580,580) {}; \node[lsw] (q2t) at (q2.north) {코반};
  \node[tkd=cgrn] (q3) at (610,580) {}; \node[lsw] (q3t) at (q3.north) {메단 스레라};
  \node[tkd=cgrn] (q4) at (640,580) {}; \node[lsw] (q4t) at (q4.north) {크디아만};
  \node[tkd=cgrn] (q5) at (670,580) {}; \node[lsw] (q5t) at (q5.north) {데란 브사};
  \node[tkd=cgrn] (q6) at (700,580) {}; \node[lsw] (q6t) at (q6.north) {메단};
  \node[tkse=cgrn] (q7) at (780,510) {}; \node[hr] (q7t) at (791,515) {슬앙오};
  \node[tkl=cgrn] (q8) at (810,470) {}; \node[rsw] (q8t) at (800,477) {스리 하지우};
  \node[rsw] (q9t) at (790,460) {르붕 아라};
  \node[rsw] (q10t) at (852,460) {잘안 알룰아짓};
  \node[tkr=cgrn] (q11) at (1130,430) {}; \node[hr] (q11t) at (1141,429) {툰 라쫘};
  \node[tkd=cgrn] (q12) at (1090,510) {}; \node[rup] (q12t) at (1089,523) {스리힝};

  \node[tkr=cdgrn] (d1) at (1050,350) {}; \node[hr] (d1t) at (1061,350) {찬 시으 시옹};
  \node[tkse=cdgrn] (d2) at (1030,390) {}; \node[hr] (d2t) at (1041,395) {수디만};
  \node[tkse=cdgrn] (d3) at (1010,410) {}; \node[hr] (d3t) at (1021,415) {엔클앞 데마가};
  \node[tkse=cdgrn] (d4) at (990,430) {}; \node[hr] (d4t) at (1001,435) {부킬 나낫};
  \node[tkse=cdgrn] (d5) at (940,530) {}; \node[hr] (d5t) at (951,534) {툰 마할히};
  \node[tkse=cdgrn] (d6) at (920,550) {}; \node[hr] (d6t) at (931,555) {임비};
  \node[tkse=cdgrn] (d7) at (900,570) {}; \node[hr] (d7t) at (911,574) {항 투말};

  \node[hr] (i1t) at (1006,320) {칼망};
  \node[hr] (i2t) at (1006,359) {푸투};
  \node[hr] (i3t) at (1066,330) {마시링};
  \node[hr] (i4t) at (1066,370) {바투 마우리안};
  \node[hr] (i5t) at (1006,479) {이풍};
  \node[hr] (i6t) at (1046,500) {횡갚};
  \node[hc] (i7t) at (1080,478) {팔앗};
  \node[hl] (i8t) at (1064,580) {페타링};
  \node[hr] (i9t) at (896,590) {므데카};

  \foreach \a/\b in \xpairs { \draw[xout] (\a) -- (\b); }
  \foreach \a/\b in \xpairs { \node[xring] (\a r) at (\a) {}; \node[xring] (\b r) at (\b) {}; }
  \foreach \a/\b in \xpairs { \draw[xin] (\a) -- (\b); }
\end{tikzpicture}
\end{document}
